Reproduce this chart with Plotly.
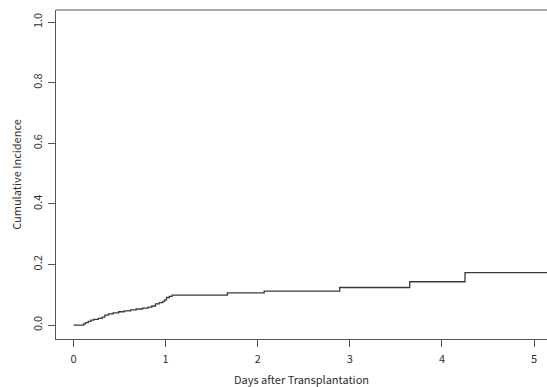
import plotly.graph_objects as go

# Event times (days) and cumulative incidence after each event
event_days = [0, 0.11, 0.13, 0.16, 0.19, 0.22, 0.27, 0.31, 0.34, 0.38,
              0.43, 0.49, 0.55, 0.62, 0.68, 0.75, 0.81, 0.85, 0.89, 0.93,
              0.97, 0.99, 1.01, 1.04, 1.07, 1.67, 2.07, 2.89, 3.65, 4.25]
cum_incidence = [0, 0.004, 0.008, 0.012, 0.016, 0.019, 0.022, 0.026, 0.033, 0.037,
                 0.040, 0.044, 0.047, 0.050, 0.053, 0.056, 0.059, 0.063, 0.070, 0.074,
                 0.078, 0.083, 0.091, 0.095, 0.099, 0.106, 0.112, 0.124, 0.143, 0.173]
follow_up_end = 5.3

x_ticks = [0, 1, 2, 3, 4, 5]
y_ticks = [0.0, 0.2, 0.4, 0.6, 0.8, 1.0]
y_tick_labels = ["0.0", "0.2", "0.4", "0.6", "0.8", "1.0"]

xs = event_days + [follow_up_end]
ys = cum_incidence + [cum_incidence[-1]]

FONT = "Noto Sans CJK JP"
INK = "#2e2e2e"
AXIS = "#555555"

fig = go.Figure()
fig.add_trace(go.Scatter(x=xs, y=ys, mode="lines", line_shape="hv",
                         line=dict(color="#3a3a3a", width=1.3), showlegend=False,
                         hoverinfo="skip"))

# top border of the plot box (right side is cut off in the reference)
fig.add_shape(type="line", xref="paper", yref="paper", x0=0, x1=1.01, y0=1, y1=1,
              line=dict(color=AXIS, width=1))

fig.update_layout(
    width=547, height=387,
    margin=dict(l=56, r=0, t=10, b=48),
    paper_bgcolor="white", plot_bgcolor="white",
    font=dict(family=FONT, size=11, color=INK),
    xaxis=dict(range=[-0.19, 5.14], tickvals=x_ticks, ticks="outside", ticklen=7,
               tickcolor=AXIS, tickwidth=1, showgrid=False, zeroline=False,
               showline=True, linecolor=AXIS, linewidth=1, mirror=False,
               title=dict(text="Days after Transplantation", standoff=14,
                          font=dict(size=11)),
               tickfont=dict(size=11), ticklabelstandoff=3),
    yaxis=dict(range=[-0.046, 1.04], tickvals=y_ticks, ticktext=y_tick_labels,
               ticks="outside", ticklen=7, tickcolor=AXIS, tickwidth=1,
               showgrid=False, zeroline=False, showline=True, linecolor=AXIS,
               linewidth=1, mirror=False, tickangle=-90,
               title=dict(text="Cumulative Incidence", standoff=4,
                          font=dict(size=11)),
               tickfont=dict(size=11), ticklabelstandoff=2),
)

fig.write_html("out.html")
